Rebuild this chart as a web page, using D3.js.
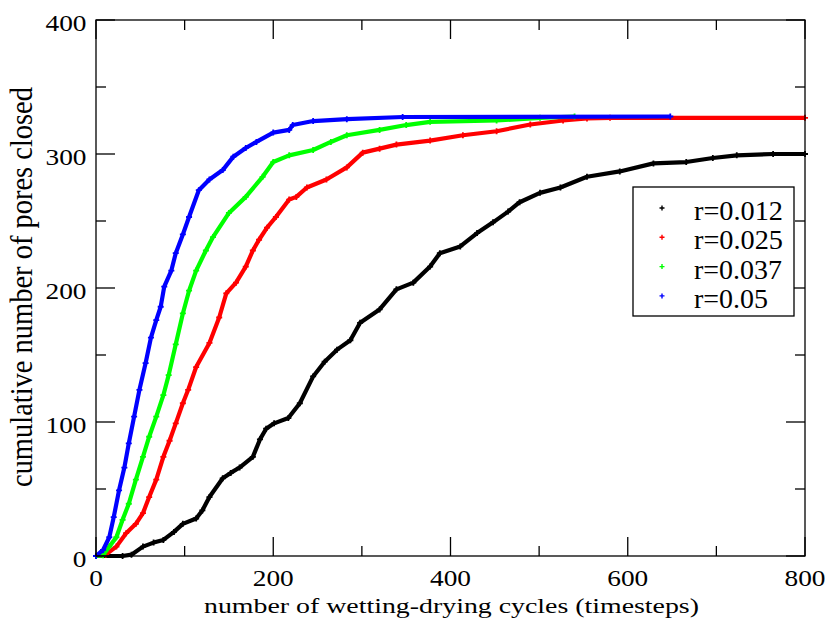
<!DOCTYPE html>
<html>
<head>
<meta charset="utf-8">
<script src="https://cdn.jsdelivr.net/npm/d3@7"></script>
<style>
  html, body { margin: 0; padding: 0; background: #fff; }
  svg { display: block; }
  text { font-family: "Liberation Serif", "DejaVu Serif", serif; fill: #000; }
</style>
</head>
<body>
<svg id="chart" width="827" height="619"></svg>
<script>
// ---- data (timestep, cumulative pores closed) ----
const seriesNames = ["r=0.012", "r=0.025", "r=0.037", "r=0.05"];
const seriesColors = ["#000000", "#ff0000", "#00ff00", "#0000ff"];

const r012 = [[0,0],[30,0],[40,1],[53,7],[65,10],[76,12],[88,18],[98,24],[113,28],[120,34],[128,44],[143,58],[152,62],[162,66],[177,74],[185,87],[192,95],[201,99],[217,103],[230,114],[245,134],[258,145],[272,154],[287,161],[298,174],[320,184],[339,199],[358,204],[377,216],[388,226],[411,231],[430,241],[448,249],[465,257],[478,264],[501,271],[524,275],[554,283],[591,287],[629,293],[666,294],[696,297],[723,299],[764,300],[800,300]];

const r025 = [[0,0],[11,1],[23,7],[34,17],[45,24],[53,32],[60,44],[68,57],[76,74],[83,86],[90,99],[98,114],[104,124],[113,141],[128,159],[139,178],[147,196],[158,204],[169,216],[177,228],[184,236],[193,245],[203,253],[218,266],[226,268],[238,275],[260,281],[283,290],[301,301],[320,304],[339,307],[377,310],[414,314],[452,317],[490,322],[527,325],[554,326.5],[580,327],[800,327]];

const r037 = [[0,0],[8,0.5],[15,7],[23,14],[30,27],[37,39],[45,57],[53,74],[60,89],[68,104],[76,120],[82,135],[90,158],[98,181],[105,198],[113,213],[124,228],[132,238],[150,256],[169,268],[188,283],[200,294],[218,299],[245,303],[265,309],[283,314],[320,318],[350,321.6],[377,324],[452,325],[501,327],[540,328]];

const r05 = [[0,0],[8,4.5],[15,14],[20,29],[26,49],[32,66],[37,84],[43,104],[49,124],[56,144],[62,163],[68,176],[73,186],[77,201],[85,213],[90,226],[98,240],[105,253],[116,273],[128,281],[143,288],[155,298],[169,304.5],[181,309],[200,316],[218,318],[222,321.6],[245,324.6],[283,326],[346,327.6],[648,328]];

const allSeries = [r012, r025, r037, r05];

const xMajorTicks = [0, 200, 400, 600, 800];
const xMinorTicks = [100, 300, 500, 700];
const yMajorTicks = [0, 100, 200, 300, 400];
const yMinorTicks = [50, 150, 250, 350];

const xTitle = "number of wetting-drying cycles (timesteps)";
const yTitle = "cumulative number of pores closed";

// ---- layout ----
const svg = d3.select("#chart");
const L = 96, R = 805, T = 20, B = 556;
const x = d3.scaleLinear().domain([0, 800]).range([L, R]);
const y = d3.scaleLinear().domain([0, 400]).range([B, T]);

// ---- data marks ----
const line = d3.line().x(d => x(d[0])).y(d => y(d[1]));
const plus = "M-3,0H3M0,-3V3";

allSeries.forEach((data, i) => {
  const g = svg.append("g");
  g.append("path")
    .attr("d", line(data))
    .attr("fill", "none")
    .attr("stroke", seriesColors[i])
    .attr("stroke-width", 4.2)
    .attr("stroke-linejoin", "round");
  g.selectAll("path.pt").data(data).join("path")
    .attr("class", "pt")
    .attr("d", plus)
    .attr("transform", d => `translate(${x(d[0])},${y(d[1])})`)
    .attr("stroke", seriesColors[i])
    .attr("stroke-width", 1.8);
});

// ---- frame & ticks ----
svg.append("rect").attr("x", L).attr("y", T).attr("width", R - L).attr("height", B - T)
  .attr("fill", "none").attr("stroke", "#000").attr("stroke-width", 1.3);

const tickG = svg.append("g").attr("stroke", "#000").attr("stroke-width", 1.3);
function xt(vals, len) {
  vals.forEach(v => {
    tickG.append("line").attr("x1", x(v)).attr("x2", x(v)).attr("y1", B).attr("y2", B - len);
    tickG.append("line").attr("x1", x(v)).attr("x2", x(v)).attr("y1", T).attr("y2", T + len);
  });
}
function yt(vals, len) {
  vals.forEach(v => {
    tickG.append("line").attr("y1", y(v)).attr("y2", y(v)).attr("x1", L).attr("x2", L + len);
    tickG.append("line").attr("y1", y(v)).attr("y2", y(v)).attr("x1", R).attr("x2", R - len);
  });
}
xt(xMajorTicks, 19); xt(xMinorTicks, 10);
yt(yMajorTicks, 19); yt(yMinorTicks, 10);

// ---- tick labels ----
xMajorTicks.forEach(v => {
  svg.append("text")
    .attr("transform", `translate(${x(v)},${B + 30}) scale(1.19,1)`)
    .attr("text-anchor", "middle")
    .attr("font-size", 23)
    .text(v);
});
yMajorTicks.forEach(v => {
  svg.append("text")
    .attr("transform", `translate(86.5,${y(v) + 10.5}) scale(1.19,1)`)
    .attr("text-anchor", "end")
    .attr("font-size", 23)
    .text(v);
});

// ---- axis titles ----
svg.append("text")
  .attr("x", 204).attr("y", 613)
  .attr("font-size", 22)
  .attr("textLength", 495).attr("lengthAdjust", "spacingAndGlyphs")
  .text(xTitle);

svg.append("text")
  .attr("transform", "translate(32,487) scale(1.15,1) rotate(-90)")
  .attr("font-size", 27)
  .attr("textLength", 400).attr("lengthAdjust", "spacingAndGlyphs")
  .text(yTitle);

// ---- legend ----
const lg = svg.append("g");
lg.append("rect").attr("x", 633).attr("y", 187).attr("width", 161).attr("height", 129)
  .attr("fill", "#fff").attr("stroke", "#000").attr("stroke-width", 1.3);
const legendWidths = [89, 89, 88, 74];
seriesNames.forEach((name, i) => {
  const cy = 208 + i * 29.3;
  lg.append("path").attr("d", "M-2.5,0H2.5M0,-2.5V2.5")
    .attr("transform", `translate(662,${cy})`)
    .attr("stroke", seriesColors[i]).attr("stroke-width", 1.4);
  lg.append("text")
    .attr("x", 694).attr("y", cy + 12)
    .attr("font-size", 27)
    .attr("textLength", legendWidths[i]).attr("lengthAdjust", "spacingAndGlyphs")
    .text(name);
});
</script>
</body>
</html>
